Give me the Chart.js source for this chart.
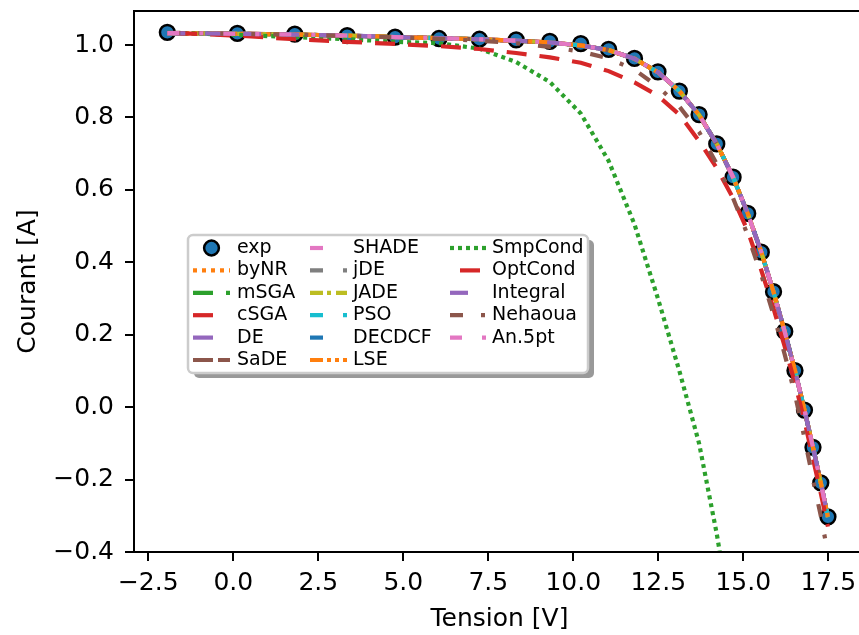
<!DOCTYPE html>
<html>
<head>
<meta charset="utf-8">
<script src="https://cdn.jsdelivr.net/npm/chart.js@4.4.1/dist/chart.umd.min.js"></script>
<style>
  html, body { margin: 0; padding: 0; overflow: hidden; background: #fff; }
  canvas { display: block; }
</style>
</head>
<body>
<canvas id="courbeIV" width="880" height="635"></canvas>
<script>
// Tensions mesurées (V)
const tension = [-1.94, 0.12, 1.81, 3.35, 4.76, 6.05, 7.24, 8.32, 9.31, 10.22, 11.04, 11.80, 12.49,
                 13.12, 13.70, 14.22, 14.70, 15.13, 15.53, 15.89, 16.22, 16.52, 16.80, 17.05, 17.28, 17.49];

// Courant mesuré (A)
const courantExp = [1.035, 1.032, 1.030, 1.026, 1.022, 1.018, 1.016, 1.014, 1.010, 1.004, 0.988, 0.963, 0.926,
                    0.873, 0.808, 0.727, 0.635, 0.535, 0.428, 0.319, 0.209, 0.101, -0.008, -0.111, -0.209, -0.303];

// Méthodes qui suivent les mesures (courbes superposées)
const courantAjuste = [1.033, 1.031, 1.029, 1.026, 1.022, 1.019, 1.016, 1.012, 1.007, 0.999, 0.986, 0.962, 0.925,
                       0.873, 0.807, 0.727, 0.635, 0.535, 0.428, 0.318, 0.208, 0.101, -0.008, -0.111, -0.209, -0.304];

// Conditions simplifiées : chute bien avant les mesures
const courantSmpCond = [1.034, 1.028, 1.022, 1.016, 1.009, 1.005, 0.990, 0.953, 0.898, 0.811, 0.680, 0.505, 0.300,
                        0.100, -0.100, -0.350, -0.620];

const courantOptCond = [1.034, 1.026, 1.016, 1.009, 1.003, 0.997, 0.989, 0.978, 0.966, 0.951, 0.928, 0.897, 0.860,
                        0.808, 0.735, 0.660, 0.577, 0.487, 0.378, 0.272, 0.167, 0.066, -0.038, -0.142, -0.238, -0.330];

const courantNehaoua = [1.034, 1.031, 1.029, 1.025, 1.021, 1.017, 1.012, 1.005, 0.995, 0.982, 0.963, 0.932, 0.885,
                        0.830, 0.760, 0.672, 0.577, 0.475, 0.365, 0.255, 0.145, 0.035, -0.085, -0.200, -0.300, -0.405];

const ticksTension = [-2.5, 0, 2.5, 5, 7.5, 10, 12.5, 15, 17.5];
const ticksCourant = [-0.4, -0.2, 0, 0.2, 0.4, 0.6, 0.8, 1.0];

// Méthodes dans l'ordre de la légende
const methodes = [
    ['byNR', courantAjuste], ['mSGA', courantAjuste], ['cSGA', courantAjuste], ['DE', courantAjuste],
    ['SaDE', courantAjuste], ['SHADE', courantAjuste], ['jDE', courantAjuste], ['JADE', courantAjuste],
    ['PSO', courantAjuste], ['DECDCF', courantAjuste], ['LSE', courantAjuste], ['SmpCond', courantSmpCond],
    ['OptCond', courantOptCond], ['Integral', courantAjuste], ['Nehaoua', courantNehaoua], ['An.5pt', courantAjuste]
];

// Couleurs et pointillés de chaque méthode
const styles = {
    byNR:     { color: '#ff7f0e', dash: [4, 5] },
    mSGA:     { color: '#2ca02c', dash: [20, 13, 4, 13] },
    cSGA:     { color: '#d62728', dash: [20, 20] },
    DE:       { color: '#9467bd', dash: [20, 20] },
    SaDE:     { color: '#8c564b', dash: [20, 5] },
    SHADE:    { color: '#e377c2', dash: [13, 25] },
    jDE:      { color: '#7f7f7f', dash: [13, 20, 4, 20] },
    JADE:     { color: '#bcbd22', dash: [13, 4, 4, 5] },
    PSO:      { color: '#17becf', dash: [13, 20, 4, 20] },
    DECDCF:   { color: '#1f77b4', dash: [13, 25] },
    LSE:      { color: '#ff7f0e', dash: [13, 4, 4, 4, 4, 4, 4, 4] },
    SmpCond:  { color: '#2ca02c', dash: [4, 4] },
    OptCond:  { color: '#d62728', dash: [20, 13], offset: 23 },
    Integral: { color: '#9467bd', dash: [18, 20] },
    Nehaoua:  { color: '#8c564b', dash: [13, 18, 4, 18] },
    'An.5pt': { color: '#e377c2', dash: [12, 20, 4, 20] }
};

const points = (ys) => ys.map((y, i) => ({ x: tension[i], y: y }));

const datasets = [{
    label: 'exp',
    data: points(courantExp),
    showLine: false,
    pointRadius: 7.4,
    pointHoverRadius: 7.4,
    pointBackgroundColor: '#1f77b4',
    pointBorderColor: '#000',
    pointBorderWidth: 2.5,
    order: 100
}];

methodes.forEach(([nom, ys], i) => {
    const s = styles[nom];
    datasets.push({
        label: nom,
        data: points(ys),
        showLine: true,
        borderColor: s.color,
        borderWidth: 4.2,
        borderDash: s.dash,
        borderDashOffset: s.offset || 0,
        pointRadius: 0,
        fill: false,
        tension: 0,
        order: methodes.length - i
    });
});

const fmt = (v) => v.toFixed(1).replace('-', '\u2212');

// Axes gauche, haut et bas de la zone de tracé
const cadre = {
    id: 'cadre',
    afterDatasetsDraw(chart) {
        const { ctx, chartArea: a } = chart;
        ctx.save();
        ctx.strokeStyle = '#000';
        ctx.lineWidth = 2;
        ctx.beginPath();
        ctx.moveTo(a.right + 5, a.top);
        ctx.lineTo(a.left, a.top);
        ctx.lineTo(a.left, a.bottom);
        ctx.lineTo(a.right + 5, a.bottom);
        ctx.stroke();
        ctx.restore();
    }
};

// Légende en trois colonnes, avec ombre
const legende = {
    id: 'legende',
    afterDraw(chart) {
        const ctx = chart.ctx;
        const bx = 188, by = 235, bw = 400, bh = 138;
        ctx.save();
        ctx.beginPath();
        ctx.roundRect(bx + 6, by + 5, bw, bh, 5);
        ctx.fillStyle = 'rgba(0,0,0,0.4)';
        ctx.fill();
        ctx.beginPath();
        ctx.roundRect(bx, by, bw, bh, 5);
        ctx.fillStyle = '#fff';
        ctx.fill();
        ctx.strokeStyle = '#cccccc';
        ctx.lineWidth = 2.5;
        ctx.stroke();

        const colLigne = [193, 310, 450];
        const colTexte = [237, 353, 492];
        ctx.font = '19px "DejaVu Sans"';
        ctx.textBaseline = 'middle';
        ctx.textAlign = 'left';
        chart.data.datasets.forEach((ds, i) => {
            const col = Math.floor(i / 6), row = i % 6;
            const y = 248 + row * 22.4;
            const x = colLigne[col];
            if (ds.showLine === false) {
                ctx.beginPath();
                ctx.arc(x + 18.5, y, ds.pointRadius, 0, Math.PI * 2);
                ctx.fillStyle = ds.pointBackgroundColor;
                ctx.fill();
                ctx.setLineDash([]);
                ctx.lineWidth = ds.pointBorderWidth;
                ctx.strokeStyle = ds.pointBorderColor;
                ctx.stroke();
            } else {
                ctx.beginPath();
                ctx.setLineDash(ds.borderDash);
                ctx.lineDashOffset = ds.borderDashOffset;
                ctx.lineWidth = ds.borderWidth;
                ctx.strokeStyle = ds.borderColor;
                ctx.moveTo(x, y);
                ctx.lineTo(x + 37, y);
                ctx.stroke();
            }
            ctx.setLineDash([]);
            ctx.fillStyle = '#000';
            ctx.fillText(ds.label, colTexte[col], y);
        });
        ctx.restore();
    }
};

Chart.defaults.font.family = '"DejaVu Sans"';
Chart.defaults.color = '#000';

const ctx = document.getElementById('courbeIV').getContext('2d');
const courbe = new Chart(ctx, {
    type: 'scatter',
    data: { datasets: datasets },
    options: {
        responsive: false,
        animation: false,
        devicePixelRatio: 1,
        layout: { padding: { top: 11, right: 15, left: 0, bottom: 0 } },
        plugins: {
            legend: { display: false },
            tooltip: { enabled: false }
        },
        scales: {
            x: {
                type: 'linear',
                min: -2.92,
                max: 18.58,
                afterBuildTicks: (scale) => { scale.ticks = ticksTension.map(v => ({ value: v })); },
                afterFit: (scale) => { scale.height = 83; scale.paddingLeft = 0; scale.paddingRight = 0; },
                grid: { drawOnChartArea: false, drawTicks: true, tickLength: 9, color: '#000', lineWidth: 2 },
                border: { display: false },
                ticks: { font: { size: 25 }, padding: 7, autoSkip: false, maxRotation: 0, callback: fmt },
                title: { display: true, text: 'Tension [V]', font: { size: 25 }, padding: { top: 1, bottom: 1 } }
            },
            y: {
                type: 'linear',
                min: -0.4,
                max: 1.094,
                afterBuildTicks: (scale) => { scale.ticks = ticksCourant.map(v => ({ value: v })); },
                afterFit: (scale) => { scale.width = 134; scale.paddingTop = 0; scale.paddingBottom = 0; },
                grid: { drawOnChartArea: false, drawTicks: true, tickLength: 9, color: '#000', lineWidth: 2 },
                border: { display: false },
                ticks: { font: { size: 25 }, padding: 11, callback: fmt },
                title: { display: true, text: 'Courant [A]', font: { size: 25 }, padding: { top: 13, bottom: 13 } }
            }
        }
    },
    plugins: [cadre, legende]
});
</script>
</body>
</html>
